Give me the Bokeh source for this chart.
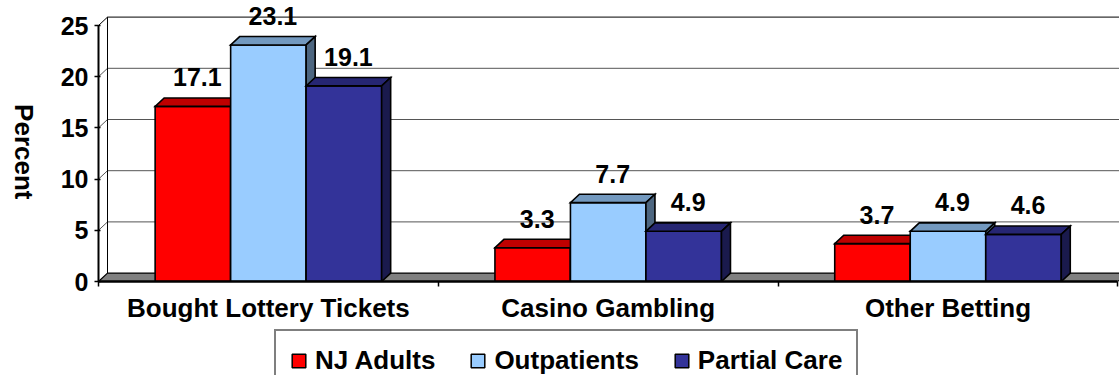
import math

from bokeh.core.properties import value
from bokeh.embed import file_html
from bokeh.layouts import column, row
from bokeh.models import FixedTicker, Legend, LegendItem, Range1d
from bokeh.plotting import figure
from bokeh.resources import INLINE

# ---- data -------------------------------------------------------------
categories = ["Bought Lottery Tickets", "Casino Gambling", "Other Betting"]
series_names = ["NJ Adults", "Outpatients", "Partial Care"]
nj_adults = [17.1, 3.3, 3.7]
outpatients = [23.1, 7.7, 4.9]
partial_care = [19.1, 4.9, 4.6]
y_ticks = [0, 5, 10, 15, 20, 25]
y_title = "Percent"

series_values = [nj_adults, outpatients, partial_care]

# face colours: front, top (75 %), side (50 %)
front_colors = ["#FF0000", "#99CCFF", "#333399"]
top_colors = ["#BF0000", "#7399BF", "#262673"]
side_colors = ["#800000", "#4D6680", "#1A1A4D"]

FONT = "Liberation Sans"

# ---- geometry ---------------------------------------------------------
W = 1119
TITLE_W = 45                 # strip holding the rotated y title
PLOT_W = W - TITLE_W
PLOT_H = 325
LEGEND_H = 375 - PLOT_H
LEFT, BOTTOM_BORDER = 53, 44
frame_w = PLOT_W - LEFT
frame_h = PLOT_H - BOTTOM_BORDER
px_per_cat = 339.8
px_per_unit = 256 / 25.0
x_end = frame_w / px_per_cat
y_end = frame_h / px_per_unit
y_max = y_ticks[-1]
n_cat = len(categories)

DX = 9.0 / px_per_cat          # depth offset, horizontal
DY = 8.4 / px_per_unit         # depth offset, vertical
BAR_W = 1 / 4.5                # three bars plus a 150 % gap
LABEL_DY = 29.0 / px_per_unit  # value labels sit above the bar tops

p = figure(
    width=PLOT_W, height=PLOT_H,
    x_range=Range1d(0, x_end), y_range=Range1d(0, y_end),
    output_backend="svg", toolbar_location=None,
    min_border_left=LEFT, min_border_right=0,
    min_border_top=0, min_border_bottom=BOTTOM_BORDER,
    background_fill_color="white", border_fill_color="white",
)
p.outline_line_color = None
p.xgrid.visible = False
p.ygrid.visible = False

# ---- walls and floor --------------------------------------------------
grid_xs, grid_ys, grid_cols = [], [], []
for v in y_ticks[1:]:
    grid_xs.append([0, DX, n_cat + DX])
    grid_ys.append([v, v + DY, v + DY])
    grid_cols.append("black" if v == y_max else "#555555")
p.multi_line(xs=grid_xs, ys=grid_ys, line_color=grid_cols, line_width=1)
p.line(x=[DX, DX], y=[DY, y_max + DY], line_color="black", line_width=1)

p.patch(x=[0, n_cat, n_cat + DX, DX], y=[0, 0, DY, DY],
        fill_color="#808080", line_color="black", line_width=1.2)

# ---- 3-D bars ---------------------------------------------------------
xs, ys, fills = [], [], []
lab_x, lab_y, lab_t = [], [], []
for c in range(n_cat):
    group_left = c + 0.5 - 1.5 * BAR_W
    for s, vals in enumerate(series_values):
        v = vals[c]
        x0 = group_left + s * BAR_W
        x1 = x0 + BAR_W
        # front
        xs.append([x0, x1, x1, x0]); ys.append([0, 0, v, v]); fills.append(front_colors[s])
        # top
        xs.append([x0, x1, x1 + DX, x0 + DX]); ys.append([v, v, v + DY, v + DY]); fills.append(top_colors[s])
        # right side
        xs.append([x1, x1 + DX, x1 + DX, x1]); ys.append([0, DY, v + DY, v]); fills.append(side_colors[s])
        lab_x.append((x0 + x1) / 2 + DX / 2)
        lab_y.append(v + LABEL_DY)
        lab_t.append(f"{v:.1f}")

p.patches(xs=xs, ys=ys, fill_color=fills, line_color="black", line_width=1.6,
          line_join="miter")

p.text(x=lab_x, y=lab_y, text=lab_t, text_align="center", text_baseline="middle",
       text_font=value(FONT), text_font_style="bold", text_font_size="25px",
       text_color="black")

# ---- axes -------------------------------------------------------------
ya = p.yaxis[0]
ya.ticker = FixedTicker(ticks=y_ticks)
ya.bounds = (0, y_max)
ya.axis_line_color = "black"
ya.axis_line_width = 2
ya.major_tick_line_color = "black"
ya.major_tick_line_width = 1.5
ya.major_tick_out = 4
ya.major_tick_in = 2
ya.minor_tick_line_color = None
ya.major_label_text_font = FONT
ya.major_label_text_font_style = "bold"
ya.major_label_text_font_size = "25px"
ya.major_label_text_color = "black"
ya.major_label_standoff = 6

xa = p.xaxis[0]
xa.ticker = FixedTicker(ticks=[c + 0.5 for c in range(n_cat)],
                        minor_ticks=list(range(n_cat + 1)))
xa.major_label_overrides = {c + 0.5: name for c, name in enumerate(categories)}
xa.bounds = (0, n_cat)
xa.axis_line_color = "black"
xa.axis_line_width = 2.5
xa.major_tick_line_color = None
xa.minor_tick_line_color = "black"
xa.minor_tick_line_width = 1.5
xa.minor_tick_out = 5
xa.minor_tick_in = 0
xa.major_label_text_font = FONT
xa.major_label_text_font_style = "bold"
xa.major_label_text_font_size = "26px"
xa.major_label_text_color = "black"
xa.major_label_standoff = 5

# ---- rotated y title (reads top to bottom) ----------------------------
title_fig = figure(
    width=TITLE_W, height=PLOT_H, x_range=Range1d(0, TITLE_W), y_range=Range1d(0, PLOT_H),
    x_axis_type=None, y_axis_type=None, output_backend="svg", toolbar_location=None,
    min_border_left=0, min_border_right=0, min_border_top=0, min_border_bottom=0,
    background_fill_color="white", border_fill_color="white",
)
title_fig.outline_line_color = None
title_fig.grid.visible = False
title_fig.text(x=[23], y=[PLOT_H - 175], text=[y_title], angle=-math.pi / 2,
               text_align="center", text_baseline="middle",
               text_font=value(FONT), text_font_style="bold", text_font_size="26px",
               text_color="black")

# ---- legend strip -----------------------------------------------------
legend_fig = figure(
    width=W, height=LEGEND_H, x_range=Range1d(0, W), y_range=Range1d(0, LEGEND_H),
    x_axis_type=None, y_axis_type=None, output_backend="svg", toolbar_location=None,
    min_border_left=0, min_border_right=0, min_border_top=0, min_border_bottom=0,
    background_fill_color="white", border_fill_color="white",
)
legend_fig.outline_line_color = None
legend_fig.grid.visible = False

# swatch renderers for the legend; their single quad lies outside the strip's range
items = []
for s, name in enumerate(series_names):
    r = legend_fig.quad(left=[-40], right=[-30], top=[-30], bottom=[-40],
                        fill_color=front_colors[s], line_color="black", line_width=1.5)
    items.append(LegendItem(label=name, renderers=[r]))

legend = Legend(
    items=items, orientation="horizontal", location=(274, -17),
    label_text_font=FONT, label_text_font_style="bold", label_text_font_size="26px",
    label_text_color="black", glyph_width=17, glyph_height=17, label_standoff=8,
    spacing=34, padding=14, margin=0,
    border_line_color="black", border_line_width=2,
    background_fill_color="white", background_fill_alpha=1,
)
legend_fig.add_layout(legend)

layout = column(row(title_fig, p, spacing=0), legend_fig, spacing=0)
open("out.html", "w").write(file_html(layout, INLINE))
